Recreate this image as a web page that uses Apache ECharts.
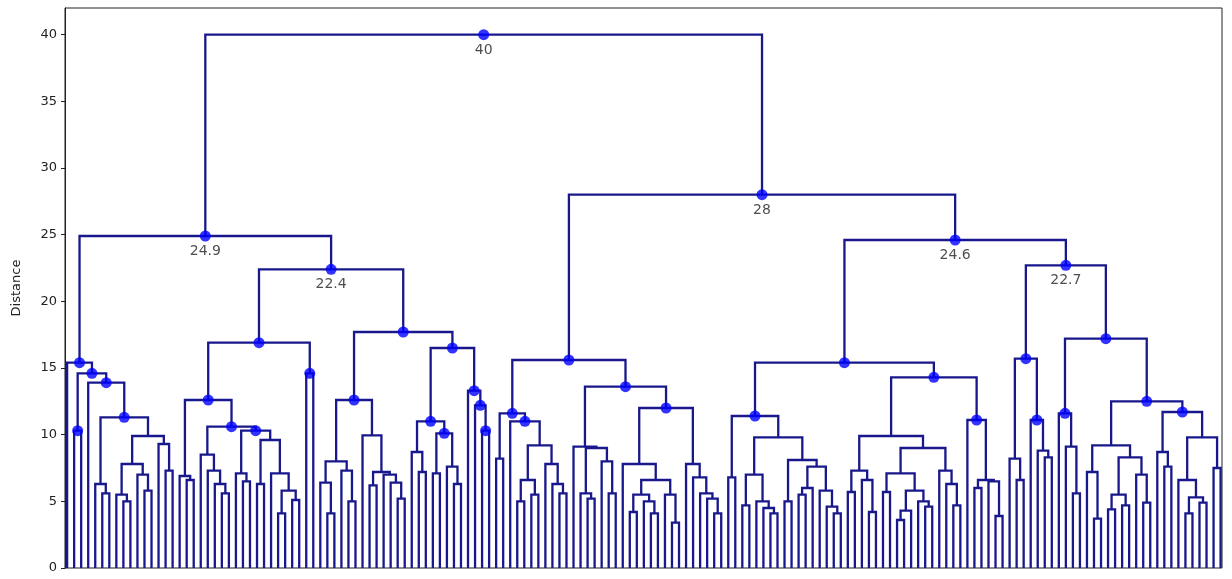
<!DOCTYPE html>
<html>
<head>
<meta charset="utf-8">
<script src="https://cdn.jsdelivr.net/npm/echarts@6/dist/echarts.min.js"></script>
<style>html,body{margin:0;padding:0;background:#fff}#chart{width:1232px;height:579px}</style>
</head>
<body>
<div id="chart"></div>
<script>
// ---- data: dendrogram clusters (Newick-like: L = leaf, number after ')' = merge distance) ----
const clusterA = "(L,((L,L)10.3,(L,((L,(L,L)5.6)6.3,(((L,(L,L)5.0)5.5,(L,(L,L)5.8)7.0)7.8,(L,(L,L)7.3)9.3)9.9)11.3)13.9)14.6)15.4";
const clusterB = "(((L,(L,L)6.6)6.9,((L,(L,(L,(L,L)5.6)6.3)7.3)8.5,((L,(L,L)6.5)7.1,((L,L)6.3,(L,((L,L)4.1,(L,L)5.1)5.8)7.1)9.6)10.3)10.6)12.6,(L,L)14.6)16.9";
const clusterC = "((((L,(L,L)4.1)6.4,(L,(L,L)5.0)7.3)8.0,(L,((L,L)6.2,(L,(L,(L,L)5.2)6.4)7.0)7.2)9.95)12.6,(((L,(L,L)7.2)8.7,((L,L)7.1,(L,(L,L)6.3)7.6)10.1)11.0,(L,(L,(L,L)10.3)12.2)13.3)16.5)17.7";
const clusterD = "(((L,L)8.2,(L,(((L,L)5.0,(L,L)5.5)6.6,(L,(L,(L,L)5.6)6.3)7.8)9.2)11.0)11.6,((L,((L,(L,L)5.2)5.6,(L,(L,L)5.6)8.0)9.0)9.1,((L,(((L,L)4.2,(L,(L,L)4.1)5.0)5.5,(L,(L,L)3.4)5.5)6.6)7.8,(L,(L,(L,(L,(L,L)4.1)5.2)5.6)6.8)7.8)12.0)13.6)15.6";
const clusterE = "(((L,L)6.8,(((L,L)4.7,(L,(L,(L,L)4.1)4.5)5.0)7.0,((L,L)5.0,(((L,L)5.5,L)6.0,(L,(L,(L,L)4.1)4.6)5.8)7.6)8.1)9.8)11.4,((((L,L)5.7,(L,(L,L)4.2)6.6)7.3,(((L,L)5.7,(((L,L)3.6,L)4.3,(L,(L,L)4.6)5.0)5.8)7.1,(L,(L,(L,L)4.7)6.3)7.3)9.0)9.9,(L,((L,L)6.0,(L,(L,L)3.9)6.5)6.6)11.1)14.3)15.4";
const clusterF = "(((L,(L,L)6.6)8.2,(L,(L,(L,L)8.3)8.8)11.1)15.7,((L,(L,(L,L)5.6)9.1)11.6,(((L,(L,L)3.7)7.2,(((L,L)4.4,(L,L)4.7)5.5,(L,(L,L)4.9)7.0)8.3)9.2,((L,(L,L)7.6)8.7,((L,((L,L)4.1,(L,L)4.9)5.3)6.6,(L,L)7.5)9.8)11.7)12.5)17.2)22.7";
const topMerges = [24.9, 22.4, 40, 28, 24.6]; // upper joins
const yTicks = [0, 5, 10, 15, 20, 25, 30, 35, 40];
const yMax = 42;
const dotThreshold = 10;   // merges at or above this distance carry a dot
const labelThreshold = 20; // merges above this distance carry a text label

const tree = "((" + clusterA + ",(" + clusterB + "," + clusterC + ")" + topMerges[1] + ")" + topMerges[0] +
  ",(" + clusterD + ",(" + clusterE + "," + clusterF + ")" + topMerges[4] + ")" + topMerges[3] + ")" + topMerges[2];

// ---- parse ----
function parse(s) {
  let i = 0;
  function node() {
    if (s[i] === '(') {
      i++;
      const l = node();
      i++; // ,
      const r = node();
      i++; // )
      let num = '';
      while (i < s.length && /[0-9.]/.test(s[i])) num += s[i++];
      return { h: parseFloat(num), l: l, r: r };
    }
    i++; // L
    return { h: 0, leaf: true };
  }
  return node();
}
const root = parse(tree);
let leafCount = 0;
const segs = [];
const dots = [];
function layout(n) {
  if (n.leaf) { n.x = 5 + 10 * leafCount++; return; }
  layout(n.l); layout(n.r);
  n.x = (n.l.x + n.r.x) / 2;
  segs.push([n.l.x, n.l.h, n.r.x, n.r.h, n.h]);
  if (n.h >= dotThreshold) dots.push([n.x, n.h, n.h > labelThreshold ? 1 : 0]);
}
layout(root);

const LINE = '#18188c';
const chart = echarts.init(document.getElementById('chart'), null, { renderer: 'canvas' });
chart.setOption({
  animation: false,
  backgroundColor: '#fff',
  grid: { left: 65, right: 10, top: 8, bottom: 11, show: true, borderColor: '#222', borderWidth: 1 },
  xAxis: {
    type: 'value', min: 2, max: leafCount * 10 - 3,
    axisLine: { show: false }, axisTick: { show: false }, axisLabel: { show: false }, splitLine: { show: false }
  },
  yAxis: {
    type: 'value', min: 0, max: yMax,
    name: 'Distance', nameLocation: 'middle', nameGap: 42, nameRotate: 90,
    nameTextStyle: { fontFamily: 'DejaVu Sans', fontSize: 13, color: '#222' },
    axisLine: { show: true, lineStyle: { color: '#222', width: 1 } },
    axisTick: { show: true, length: 4, lineStyle: { color: '#222' }, customValues: yTicks },
    axisLabel: { fontFamily: 'DejaVu Sans', fontSize: 13, color: '#222', margin: 8, customValues: yTicks },
    splitLine: { show: false }
  },
  series: [
    {
      type: 'custom',
      data: segs,
      encode: { x: [0, 2], y: [1, 3, 4] },
      renderItem: function (params, api) {
        const xl = api.value(0), yl = api.value(1), xr = api.value(2), yr = api.value(3), h = api.value(4);
        return {
          type: 'polyline',
          shape: { points: [api.coord([xl, yl]), api.coord([xl, h]), api.coord([xr, h]), api.coord([xr, yr])] },
          style: { stroke: LINE, lineWidth: 2.3, fill: null }
        };
      },
      z: 2
    },
    {
      type: 'scatter',
      data: dots,
      symbol: 'circle',
      symbolSize: 11,
      itemStyle: { color: '#0000ff' },
      label: {
        show: true, position: 'bottom', distance: 3,
        fontFamily: 'DejaVu Sans', fontSize: 14, color: '#222',
        formatter: function (p) { return p.data[2] ? String(p.data[1]) : ''; }
      },
      z: 3
    }
  ]
});
</script>
</body>
</html>
